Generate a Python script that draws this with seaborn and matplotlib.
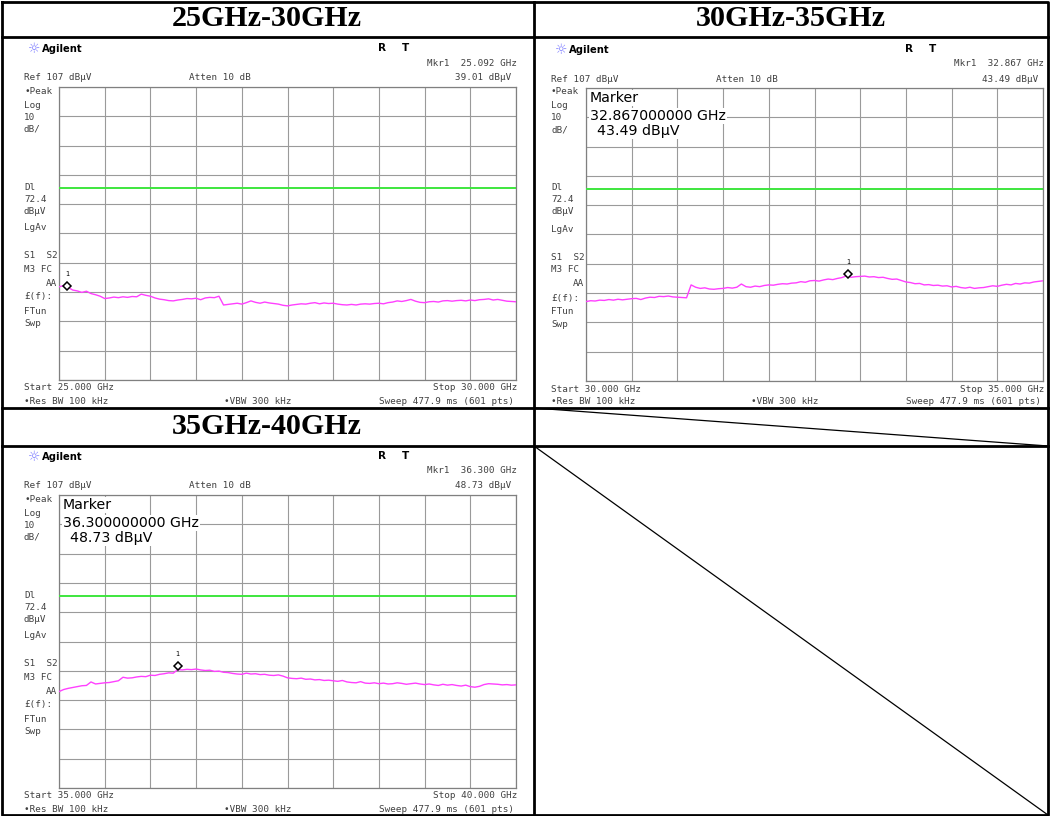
import numpy as np
import matplotlib
matplotlib.use("Agg")
import matplotlib.pyplot as plt
import seaborn as sns

# ---- sweep settings -------------------------------------------------------
sweep_titles = ["25GHz-30GHz", "30GHz-35GHz", "35GHz-40GHz"]
start_ghz = [25.0, 30.0, 35.0]
stop_ghz = [30.0, 35.0, 40.0]
ref_level = 107.0
db_per_div = 10.0
display_line = 72.4
marker_ghz = [25.092, 32.867, 36.300]
marker_dbuv = [39.01, 43.49, 48.73]
show_marker_box = [False, True, True]

# ---- measured traces (dBuV), 101 points per span ---------------------------
trace_25_30 = [
    38.8, 39.2, 38.6, 37.7, 37.4, 36.9, 37.3, 36.5, 36.1, 35.6,
    34.8, 35.0, 35.3, 35.1, 35.4, 35.2, 35.5, 35.4, 36.3, 35.9,
    35.6, 35.0, 34.6, 34.4, 34.1, 34.0, 34.3, 34.5, 34.8, 34.7,
    34.9, 34.4, 35.0, 35.2, 35.1, 35.6, 32.6, 32.8, 33.0, 33.2,
    32.9, 33.4, 34.0, 33.5, 33.2, 33.6, 33.3, 33.1, 32.9, 32.5,
    32.3, 32.6, 32.8, 33.0, 32.9, 33.2, 33.4, 33.0, 33.3, 33.1,
    33.2, 32.9, 32.7, 32.6, 32.8, 32.6, 32.9, 33.0, 32.9, 33.1,
    33.2, 33.0, 33.4, 33.6, 34.0, 33.8, 34.1, 34.5, 33.9, 33.5,
    33.4, 33.7, 33.8, 33.6, 34.0, 34.1, 33.9, 34.1, 34.2, 34.0,
    34.3, 34.1, 34.4, 34.5, 34.7, 34.3, 34.5, 34.2, 33.9, 33.8,
    33.7,
]
trace_30_35 = [
    34.1, 34.4, 34.3, 34.6, 34.5, 34.8, 34.6, 34.9, 34.7, 34.9,
    35.1, 35.2, 34.8, 35.3, 35.6, 35.5, 35.9, 35.8, 36.0, 35.7,
    35.6, 35.5, 35.4, 39.8, 39.0, 38.6, 38.8, 38.4, 38.3, 38.5,
    38.6, 38.9, 38.7, 39.0, 40.1, 39.2, 39.0, 39.4, 39.2, 39.6,
    39.8, 39.7, 40.0, 40.2, 40.1, 40.4, 40.5, 40.9, 40.7, 41.2,
    41.3, 41.1, 41.5, 41.8, 41.6, 42.0, 42.3, 42.9, 42.4, 42.6,
    42.7, 42.8, 42.5, 42.6, 42.3, 42.4, 42.0, 41.7, 41.8, 41.3,
    40.8, 40.6, 40.2, 40.3, 39.8, 39.9, 39.6, 39.7, 39.4, 39.5,
    39.1, 39.3, 38.9, 38.7, 39.0, 38.6, 38.8, 38.9, 39.2, 39.5,
    39.3, 39.7, 40.0, 39.8, 40.3, 40.1, 40.5, 40.4, 40.8, 41.0,
    41.2,
]
trace_35_40 = [
    39.9, 40.6, 41.0, 41.3, 41.6, 41.9, 42.0, 43.2, 42.5, 42.7,
    42.9, 43.0, 43.3, 43.6, 44.8, 44.5, 44.6, 44.9, 45.1, 45.0,
    45.5, 45.4, 45.8, 46.0, 46.3, 46.2, 47.4, 47.3, 47.5, 47.4,
    47.6, 47.3, 47.1, 47.2, 46.8, 46.9, 46.5, 46.4, 46.1, 45.9,
    45.8, 46.2, 45.9, 46.0, 45.7, 45.8, 45.5, 45.4, 45.6, 45.2,
    44.6, 44.4, 44.3, 44.5, 44.1, 44.2, 43.9, 44.0, 43.7, 43.8,
    43.6, 43.4, 43.7, 43.2, 43.0, 42.9, 43.3, 42.8, 42.7, 42.9,
    42.6, 42.8, 42.5, 42.6, 42.9, 42.7, 42.4, 42.6, 42.8, 42.5,
    42.3, 42.5, 42.2, 42.0, 42.4, 42.1, 42.3, 42.0, 41.8, 42.1,
    41.6, 41.4, 41.7, 42.3, 42.6, 42.5, 42.4, 42.2, 42.3, 42.1,
    42.2,
]
traces = [trace_25_30, trace_30_35, trace_35_40]

# ---- page layout (pixels) ---------------------------------------------------
W, H = 1050, 816
panel_origin = [(0, 0), (527, 1), (0, 408)]
grid_box = (59, 87, 516, 380)          # left, top, right, bottom inside a screen

sns.set_theme(style="white")
plt.rcParams["font.family"] = ["DejaVu Sans"]

fig = plt.figure(figsize=(W / 100, H / 100), dpi=100)
fig.patch.set_facecolor("white")

# table frame
bg = fig.add_axes([0, 0, 1, 1], zorder=-5)
bg.set_xlim(0, W)
bg.set_ylim(H, 0)
bg.axis("off")
frame_kw = dict(color="black", lw=2.0, solid_capstyle="projecting")
bg.plot([2, 1048, 1048, 2, 2], [1.5, 1.5, 815, 815, 1.5], **frame_kw)
bg.plot([534, 534], [1.5, 815], **frame_kw)
bg.plot([2, 1048], [37, 37], **frame_kw)
bg.plot([2, 1048], [408, 408], **frame_kw)
bg.plot([2, 1048], [446, 446], **frame_kw)
bg.plot([534, 1048], [408, 446], color="black", lw=0.9)
bg.plot([534, 1048], [446, 815], color="black", lw=0.9)

head_kw = dict(family="Liberation Serif", weight="bold", fontsize=21.6,
               ha="center", va="center", color="black")
header_pos = [(267, 19), (791, 19), (267, 427)]


def txt(x, y, s, **kw):
    opts = dict(family="DejaVu Sans Mono", fontsize=6.7, color="#404040",
                va="center", ha="left")
    opts.update(kw)
    return fig.text(x / W, 1 - y / H, s, **opts)


for i in range(3):
    ox, oy = panel_origin[i]
    hx, hy = header_pos[i]
    fig.text(hx / W, 1 - hy / H, sweep_titles[i], **head_kw)

    f0, f1 = start_ghz[i], stop_ghz[i]
    freqs = np.linspace(f0, f1, len(traces[i]))
    gl, gt, gr, gb = grid_box
    ax = fig.add_axes([(ox + gl) / W, 1 - (oy + gb) / H,
                       (gr - gl) / W, (gb - gt) / H])
    ax.set_facecolor("white")
    ax.set_xlim(f0, f1)
    ax.set_ylim(ref_level - 10 * db_per_div, ref_level)
    ax.set_xticks(np.linspace(f0, f1, 11))
    ax.set_yticks(np.linspace(ref_level - 10 * db_per_div, ref_level, 11))
    ax.tick_params(length=0, labelbottom=False, labelleft=False)
    ax.grid(True, color="#9a9a9a", lw=0.8)
    for sp in ax.spines.values():
        sp.set_color("#808080")
        sp.set_linewidth(0.9)
    ax.axhline(display_line, color="#3ee63e", lw=1.4, zorder=3)
    sns.lineplot(x=freqs, y=traces[i], ax=ax, color="#ff40ff", lw=1.0,
                 estimator=None, sort=False, zorder=4)
    ax.plot([marker_ghz[i]], [marker_dbuv[i]], ls="none", marker="D", ms=4.2,
            mfc="white", mec="black", mew=1.1, zorder=6)
    ax.annotate("1", (marker_ghz[i], marker_dbuv[i]), xytext=(0, 6.5),
                textcoords="offset points", ha="center", va="bottom",
                fontsize=4.8, color="black", zorder=6)
    ax.set_xlabel("")
    ax.set_ylabel("")

    # instrument annotations around the screen
    fig.text((ox + 34) / W, 1 - (oy + 49) / H, "\u263c", fontsize=10,
             color="#8080ff", ha="center", va="center")
    txt(ox + 42, oy + 49, "Agilent", family="DejaVu Sans", weight="bold",
        fontsize=7.2, color="black")
    txt(ox + 378, oy + 48, "R", family="DejaVu Sans", weight="bold",
        fontsize=7.5, color="black")
    txt(ox + 402, oy + 48, "T", family="DejaVu Sans", weight="bold",
        fontsize=7.5, color="black")
    txt(ox + 517, oy + 63, f"Mkr1  {marker_ghz[i]:.3f} GHz", ha="right")
    txt(ox + 24, oy + 78, "Ref 107 dB\u00b5V")
    txt(ox + 189, oy + 78, "Atten 10 dB")
    txt(ox + 511, oy + 78, f"{marker_dbuv[i]:.2f} dB\u00b5V", ha="right")

    left_labels = [("\u2022Peak", 91), ("Log", 105), ("10", 117), ("dB/", 129),
                   ("Dl", 187), ("72.4", 199), ("dB\u00b5V", 211), ("LgAv", 228),
                   ("S1  S2", 256), ("M3 FC", 269), ("\u00a3(f):", 297),
                   ("FTun", 311), ("Swp", 324)]
    for s, y in left_labels:
        txt(ox + 24, oy + y, s)
    txt(ox + 57, oy + 283, "AA", ha="right")

    txt(ox + 24, oy + 388, f"Start {f0:.3f} GHz")
    txt(ox + 517, oy + 388, f"Stop {f1:.3f} GHz", ha="right")
    txt(ox + 24, oy + 401, "\u2022Res BW 100 kHz")
    txt(ox + 224, oy + 401, "\u2022VBW 300 kHz")
    txt(ox + 514, oy + 401, "Sweep 477.9 ms (601 pts)", ha="right")

    if show_marker_box[i]:
        box = dict(facecolor="white", edgecolor="none", pad=0.6)
        mk = dict(family="DejaVu Sans", fontsize=10.2, color="black", bbox=box)
        txt(ox + 63, oy + 97, "Marker", **mk)
        txt(ox + 63, oy + 115, f"{marker_ghz[i]:.9f} GHz", **mk)
        txt(ox + 70, oy + 130, f"{marker_dbuv[i]:.2f} dB\u00b5V", **mk)

fig.savefig("out.png", dpi=100, facecolor="white")
